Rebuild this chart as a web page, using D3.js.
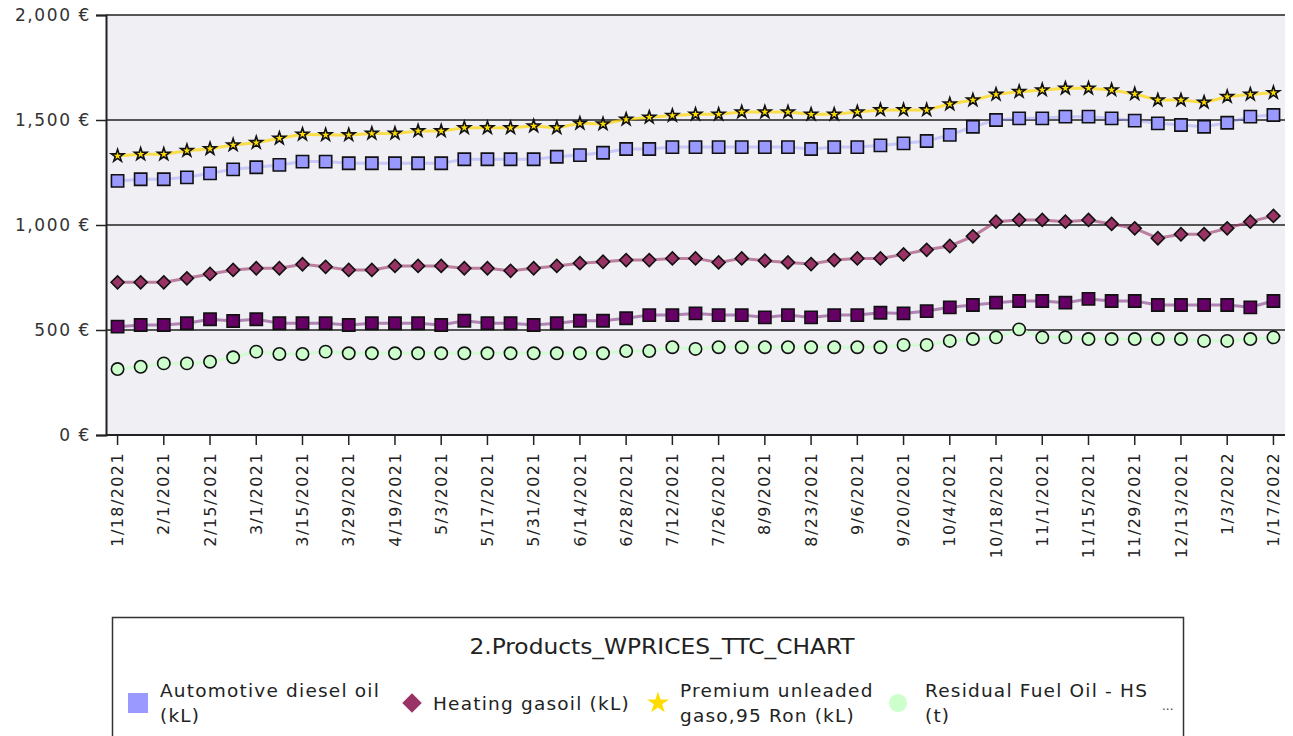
<!DOCTYPE html>
<html>
<head>
<meta charset="utf-8">
<script src="https://cdn.jsdelivr.net/npm/d3@7"></script>
<style>
  html, body { margin: 0; padding: 0; background: #fff; }
  svg { display: block; font-family: "DejaVu Sans", sans-serif; }
</style>
</head>
<body>
<div id="chart"></div>
<script>
// ---- data (weekly TTC prices, € ) ----
const weeks = ["1/18/2021","1/25/2021","2/1/2021","2/8/2021","2/15/2021","2/22/2021","3/1/2021","3/8/2021",
  "3/15/2021","3/22/2021","3/29/2021","4/12/2021","4/19/2021","4/26/2021","5/3/2021","5/10/2021","5/17/2021",
  "5/24/2021","5/31/2021","6/7/2021","6/14/2021","6/21/2021","6/28/2021","7/5/2021","7/12/2021","7/19/2021",
  "7/26/2021","8/2/2021","8/9/2021","8/16/2021","8/23/2021","8/30/2021","9/6/2021","9/13/2021","9/20/2021",
  "9/27/2021","10/4/2021","10/11/2021","10/18/2021","10/25/2021","11/1/2021","11/8/2021","11/15/2021",
  "11/22/2021","11/29/2021","12/6/2021","12/13/2021","12/20/2021","1/3/2022","1/10/2022","1/17/2022"];

const diesel = [1210,1218,1218,1227,1246,1265,1275,1286,1302,1302,1294,1294,1294,1294,1294,
  1313,1313,1313,1313,1325,1333,1344,1362,1362,1371,1371,1371,1371,1371,1371,1362,1371,1371,1379,
  1389,1400,1429,1468,1500,1508,1508,1516,1516,1508,1497,1484,1476,1468,1487,1516,1524];
const heating = [727,727,727,746,767,786,794,794,813,801,786,786,805,805,805,
  794,794,782,794,805,818,825,833,833,841,841,822,841,830,822,814,833,841,841,
  860,882,900,946,1016,1024,1024,1016,1024,1005,984,937,956,956,984,1016,1043];
const premium = [1329,1337,1337,1354,1363,1381,1392,1413,1432,1429,1429,1436,1436,1448,1448,
  1463,1463,1463,1471,1463,1484,1481,1503,1513,1521,1527,1527,1538,1538,1538,1527,1527,1538,1548,
  1548,1548,1576,1595,1622,1635,1643,1651,1651,1643,1624,1595,1595,1584,1611,1622,1630];
const residualHS = [314,325,341,341,349,370,397,386,386,397,389,389,389,389,389,
  389,389,389,389,389,389,389,400,400,418,410,418,418,418,418,418,418,418,418,
  429,429,448,457,465,503,465,465,457,457,457,457,457,448,448,457,465];
const residualLS = [516,524,524,532,551,543,551,532,532,532,524,532,532,532,524,
  544,532,532,524,532,544,544,556,571,571,579,571,571,560,571,560,571,571,582,
  579,590,608,619,630,638,638,630,648,638,638,619,619,619,619,608,638];

const yTicks = [0, 500, 1000, 1500, 2000];
const legendTitle = "2.Products_WPRICES_TTC_CHART";

// series: name, values, marker, colour ; the last one is hidden behind "…" in the legend
const series = [
  { name: ["Automotive diesel oil", "(kL)"], values: diesel, shape: "square", color: "#9999ff", line: "#9999ff", lo: 0.45 },
  { name: ["Heating gasoil (kL)"], values: heating, shape: "diamond", color: "#993366", line: "#993366", lo: 0.6 },
  { name: ["Premium unleaded", "gaso,95 Ron (kL)"], values: premium, shape: "star", color: "#ffdd00", line: "#ffd700", lo: 0.7 },
  { name: ["Residual Fuel Oil - HS", "(t)"], values: residualHS, shape: "circle", color: "#ccffcc", line: "#ccffcc", lo: 0.8 },
  { name: null, values: residualLS, shape: "square", color: "#660066", line: "#660066", lo: 0.45 },
];

(function () {
  const W = 1293, H = 736;
  const P = { left: 106, right: 1285, top: 15, bottom: 435 };

  const svg = d3.select("#chart").append("svg").attr("width", W).attr("height", H);

  const x = d3.scaleBand().domain(weeks).range([P.left, P.right]);
  const cx = (w) => x(w) + x.bandwidth() / 2;
  const y = d3.scaleLinear().domain([0, 2000]).range([P.bottom, P.top]);

  // plot background
  svg.append("rect").attr("x", P.left).attr("y", P.top)
    .attr("width", P.right - P.left).attr("height", P.bottom - P.top).attr("fill", "#efeff4");

  // gridlines
  svg.append("g").selectAll("line").data(yTicks.filter((t) => t > 0)).join("line")
    .attr("x1", P.left).attr("x2", P.right).attr("y1", (d) => y(d)).attr("y2", (d) => y(d))
    .attr("stroke", "#222").attr("stroke-width", 1.5);

  // y axis
  const fmt = d3.format(",");
  const yAxis = svg.append("g").attr("transform", `translate(${P.left},0)`)
    .call(d3.axisLeft(y).tickValues(yTicks).tickSize(10).tickPadding(5).tickFormat((d) => fmt(d) + " €"));
  yAxis.select(".domain").attr("stroke", "#222").attr("stroke-width", 2);
  yAxis.selectAll(".tick line").attr("stroke", "#222").attr("stroke-width", 1.5);
  yAxis.selectAll("text").attr("fill", "#333").style("font-size", "17px").style("font-family", "DejaVu Sans")
    .style("letter-spacing", "1.6px");

  // x axis: every other week is labelled
  const shown = weeks.filter((d, i) => i % 2 === 0);
  const xAxis = svg.append("g").attr("transform", `translate(0,${P.bottom})`)
    .call(d3.axisBottom(x).tickValues(shown).tickSize(10).tickPadding(0).tickSizeOuter(0));
  xAxis.select(".domain").attr("stroke", "#222").attr("stroke-width", 2)
    .attr("d", `M${P.left},0H${P.right}`);
  xAxis.selectAll(".tick line").attr("stroke", "#222").attr("stroke-width", 1.5);
  xAxis.selectAll("text").attr("fill", "#222").style("font-size", "16px").style("font-family", "DejaVu Sans")
    .style("letter-spacing", "1.4px")
    .attr("text-anchor", "end").attr("transform", "translate(0,17) rotate(-90)")
    .attr("x", 0).attr("y", 0).attr("dy", "0.35em");

  // lines first, then markers
  const line = d3.line().x((d, i) => cx(weeks[i])).y((d) => y(d));
  series.forEach((s) => {
    svg.append("path").datum(s.values).attr("fill", "none").attr("stroke", s.line)
      .attr("stroke-opacity", s.lo).attr("stroke-width", 3).attr("d", line);
  });

  function symbolPath(shape, big) {
    if (shape === "square") return d3.symbol(d3.symbolSquare, big ? 400 : 150)();
    if (shape === "diamond") return d3.symbol(d3.symbolSquare, big ? 190 : 85)();
    if (shape === "star") return d3.symbol(d3.symbolStar, big ? 150 : 48)();
    return d3.symbol(d3.symbolCircle, big ? 260 : 120)();
  }

  series.forEach((s) => {
    svg.append("g").selectAll("path").data(s.values).join("path")
      .attr("transform", (d, i) => `translate(${cx(weeks[i])},${y(d)})` + (s.shape === "diamond" ? " rotate(45)" : ""))
      .attr("d", symbolPath(s.shape, false))
      .attr("fill", s.color).attr("stroke", "#111").attr("stroke-width", 1.6);
  });

  // legend box
  const lg = svg.append("g");
  lg.append("rect").attr("x", 112.5).attr("y", 617.5).attr("width", 1071).attr("height", 140)
    .attr("fill", "#fff").attr("stroke", "#333").attr("stroke-width", 1.5);
  lg.append("text").attr("x", 662).attr("y", 654).attr("text-anchor", "middle")
    .style("font-family", "DejaVu Sans Condensed").style("font-size", "22px").attr("fill", "#222")
    .attr("textLength", 385).attr("lengthAdjust", "spacingAndGlyphs")
    .text(legendTitle);

  const itemX = [[138, 160], [412, 433], [658, 680], [898, 925]];
  series.filter((s) => s.name).forEach((s, i) => {
    const [sx, tx] = itemX[i];
    lg.append("path").attr("transform", `translate(${sx},703)` + (s.shape === "diamond" ? " rotate(45)" : ""))
      .attr("d", symbolPath(s.shape, true)).attr("fill", s.color);
    const t = lg.append("text").attr("x", tx).attr("fill", "#222")
      .style("font-size", "18.5px").style("letter-spacing", "1.2px");
    if (s.name.length === 1) t.attr("y", 710).text(s.name[0]);
    else s.name.forEach((ln, k) => t.append("tspan").attr("x", tx).attr("y", 697 + k * 25).text(ln));
  });
  lg.append("text").attr("x", 1162).attr("y", 710).attr("fill", "#444").style("font-size", "12px").text("...");
})();
</script>
</body>
</html>
